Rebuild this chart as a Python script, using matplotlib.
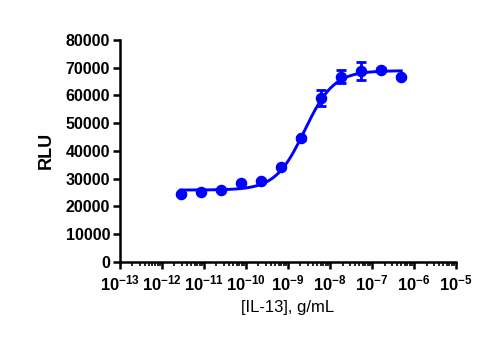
import numpy as np
import matplotlib
matplotlib.use("Agg")
import matplotlib.pyplot as plt
from matplotlib.ticker import LogLocator, NullFormatter, FixedLocator

plt.rcParams["font.family"] = ["Liberation Sans", "DejaVu Sans"]
plt.rcParams["mathtext.fontset"] = "custom"
plt.rcParams["mathtext.rm"] = "Liberation Sans"
plt.rcParams["mathtext.bf"] = "Liberation Sans:bold"

# 3-fold dilution series, top at 500 ng/mL
conc = [2.82e-12, 8.47e-12, 2.54e-11, 7.62e-11, 2.29e-10, 6.86e-10,
        2.06e-9, 6.17e-9, 1.85e-8, 5.56e-8, 1.67e-7, 5.0e-7]
rlu = [24500, 25200, 25800, 28400, 29200, 34200,
       44600, 59100, 66800, 68800, 69300, 66700]
rlu_err = [300, 300, 300, 300, 300, 400,
           500, 2900, 2400, 3400, 400, 400]

# 4PL fit parameters
BOTTOM = 25900
TOP = 68900
LOG_EC50 = -8.6
HILL = 1.25

BLUE = "#0000ff"

fig = plt.figure(figsize=(4.85, 3.53), dpi=100)
ax = fig.add_axes([0.247, 0.258, 0.693, 0.629])

xfit = np.logspace(np.log10(conc[0]), np.log10(conc[-1]), 300)
yfit = BOTTOM + (TOP - BOTTOM) / (1 + 10 ** ((LOG_EC50 - np.log10(xfit)) * HILL))
ax.plot(xfit, yfit, color=BLUE, lw=2.1, zorder=3)
ax.errorbar(conc, rlu, yerr=rlu_err, fmt="o", color=BLUE, ms=7.3,
            elinewidth=2, capsize=3.5, capthick=2, zorder=4)

ax.set_xscale("log")
ax.set_xlim(1e-13, 1e-5)
ax.set_ylim(0, 80000)
ax.set_yticks(range(0, 80001, 10000))

decades = list(range(-13, -4))
ax.xaxis.set_major_locator(FixedLocator([10.0 ** d for d in decades]))
ax.set_xticklabels([r"$\mathbf{10^{%d}}$" % d for d in decades])
ax.xaxis.set_minor_locator(LogLocator(base=10, subs=np.arange(2, 10), numticks=20))
ax.xaxis.set_minor_formatter(NullFormatter())

for s in ["top", "right"]:
    ax.spines[s].set_visible(False)
for s in ["left", "bottom"]:
    ax.spines[s].set_linewidth(1.8)

ax.tick_params(axis="both", which="major", width=1.8, length=5, labelsize=11.5, pad=2)
ax.tick_params(axis="x", which="major", labelsize=12, pad=3)
ax.tick_params(axis="x", which="minor", width=1.2, length=3)
for lab in ax.get_yticklabels():
    lab.set_fontweight("bold")

ax.set_ylabel("RLU", fontsize=13, fontweight="bold", labelpad=8)
ax.set_xlabel("[IL-13], g/mL", fontsize=12, labelpad=5)

fig.savefig("out.png", dpi=100)
